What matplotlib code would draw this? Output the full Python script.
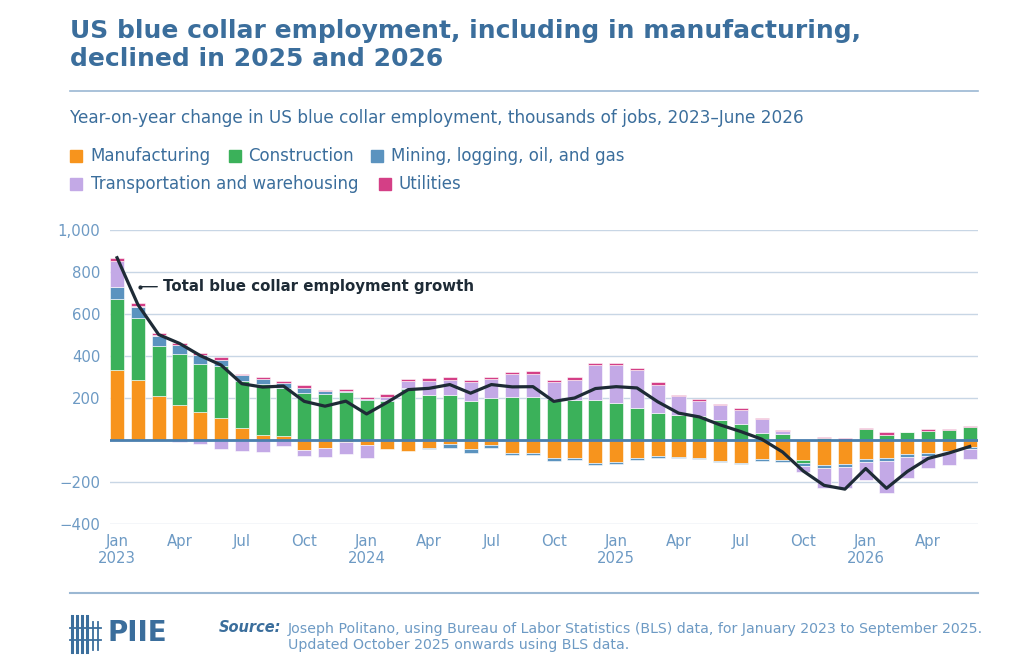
import numpy as np
import matplotlib
matplotlib.use("Agg")
import matplotlib.pyplot as plt
from matplotlib.lines import Line2D
from matplotlib.patches import Rectangle

plt.rcParams['font.family'] = ['DejaVu Sans']

# year-on-year change, thousands of jobs, Jan 2023 .. Jun 2026
months = ['Jan', 'Feb', 'Mar', 'Apr', 'May', 'Jun', 'Jul', 'Aug', 'Sep', 'Oct', 'Nov', 'Dec']
years = [2023, 2024, 2025, 2026]

manufacturing = [335, 287, 208, 167, 133, 103, 56, 24, 17, -46, -38, -11,
                 -26, -45, -50, -37, -21, -45, -22, -61, -61, -88, -85, -109,
                 -104, -88, -76, -83, -88, -102, -110, -91, -96, -94, -120, -112,
                 -91, -86, -67, -64, -54, -35]
construction = [336, 294, 238, 244, 227, 248, 225, 244, 231, 224, 221, 227,
                192, 187, 243, 216, 216, 187, 198, 206, 206, 195, 190, 190,
                174, 152, 130, 121, 113, 94, 77, 31, 28, -16, 8, 0,
                53, 26, 37, 42, 50, 62]
mining = [56, 51, 48, 43, 46, 32, 27, 24, 23, 24, 10, 8,
          5, 5, 5, -8, -15, -15, -15, -10, -10, -11, -8, -10,
          -8, -5, -9, -4, -3, -5, -6, -10, -11, -12, -14, -18,
          -13, -13, -13, -11, -5, -10]
transport = [124, 5, 6, -8, -19, -43, -54, -59, -27, -32, -43, -56,
             -59, 15, 32, 67, 72, 88, 93, 106, 109, 80, 98, 165,
             181, 182, 134, 87, 74, 71, 68, 71, 14, -30, -95, -100,
             -85, -152, -100, -56, -58, -45]
utilities = [14, 15, 10, 10, 10, 10, 8, 10, 8, 12, 6, 10,
             10, 10, 11, 11, 11, 11, 11, 14, 15, 11, 10, 11,
             11, 8, 11, 4, 10, 8, 8, 5, 5, 2, 7, 8,
             6, 11, 3, 8, 3, 3]
total = [868, 645, 502, 460, 402, 357, 268, 252, 257, 184, 161, 185,
         124, 180, 240, 246, 264, 223, 264, 253, 254, 184, 200, 245,
         254, 248, 182, 128, 110, 72, 40, 4, -57, -148, -216, -234,
         -136, -230, -150, -88, -62, -31]

series = [
    ('Manufacturing', manufacturing, '#f7941d'),
    ('Construction', construction, '#3bb15a'),
    ('Mining, logging, oil, and gas', mining, '#5b93bf'),
    ('Transportation and warehousing', transport, '#c3a9e6'),
    ('Utilities', utilities, '#d43f86'),
]

title_col = '#3b6e9c'
light_col = '#6d9ac4'
grid_col = '#c8d6e5'

fig = plt.figure(figsize=(10.23, 6.70), dpi=100)
ax = fig.add_axes([110 / 1023, 1 - 524 / 670, 868 / 1023, 294 / 670])

x = np.arange(len(total))
pos = np.zeros(len(x))
neg = np.zeros(len(x))
for name, vals, col in series:
    v = np.array(vals, dtype=float)
    bottom = np.where(v >= 0, pos, neg)
    ax.bar(x, v, 0.68, bottom=bottom, color=col, edgecolor='white', linewidth=0.4, zorder=2)
    pos = pos + np.where(v >= 0, v, 0)
    neg = neg + np.where(v < 0, v, 0)

ax.plot(x, total, color='#1e2b36', lw=2.3, zorder=4)
ax.axhline(0, color='#4a7fae', lw=2, zorder=3)

ax.set_ylim(-400, 1000)
ax.set_xlim(-0.34, 41.4)
ax.set_yticks(range(-400, 1001, 200))
ax.set_yticklabels(['\u2212400', '\u2212200', '', '200', '400', '600', '800', '1,000'])
ax.grid(axis='y', color=grid_col, lw=1, zorder=0)
ax.set_axisbelow(True)

ticks = list(range(0, 42, 3))
labels = []
for t in ticks:
    m = months[t % 12]
    if t % 12 == 0:
        labels.append(m + '\n' + str(years[t // 12]))
    else:
        labels.append(m)
ax.set_xticks(ticks)
ax.set_xticklabels(labels)
ax.tick_params(axis='both', length=0, labelsize=10.7, labelcolor=light_col)
ax.tick_params(axis='x', pad=7)
ax.tick_params(axis='y', pad=7)
for s in ax.spines.values():
    s.set_visible(False)

ax.annotate('Total blue collar employment growth', xy=(1.1, 730), xytext=(2.2, 730),
            va='center', ha='left', fontsize=10.8, fontweight='bold', color='#1e2b36',
            arrowprops=dict(arrowstyle='-', color='#1e2b36', lw=1, shrinkA=2, shrinkB=0))
ax.plot([1.1], [730], 'o', color='#1e2b36', ms=2, zorder=5)

# header
fig.text(70 / 1023, 1 - 19 / 670, 'US blue collar employment, including in manufacturing,\ndeclined in 2025 and 2026',
         fontsize=18, fontweight='bold', color=title_col, va='top', ha='left', linespacing=1.22)
fig.add_artist(Line2D([70 / 1023, 978 / 1023], [1 - 91 / 670] * 2, color='#9bb8d3', lw=1.2))
fig.text(70 / 1023, 1 - 118 / 670,
         'Year-on-year change in US blue collar employment, thousands of jobs, 2023\u2013June 2026',
         fontsize=12.2, color=title_col, va='center', ha='left')

# legend
legend_pos = [(70, 90, 156), (229, 248, 156), (371, 391, 156), (70, 91, 184), (379, 399, 184)]
for (name, vals, col), (sx, tx, yy) in zip(series, legend_pos):
    fig.add_artist(Rectangle((sx / 1023, 1 - (yy + 6) / 670), 12 / 1023, 12 / 670,
                             transform=fig.transFigure, color=col))
    fig.text(tx / 1023, 1 - yy / 670, name, fontsize=12, color=title_col, va='center', ha='left')

# footer
fig.add_artist(Line2D([70 / 1023, 978 / 1023], [1 - 593 / 670] * 2, color='#9bb8d3', lw=1.5))
for xx in [72, 77, 82, 87]:
    fig.add_artist(Line2D([xx / 1023] * 2, [1 - 652 / 670, 1 - 616 / 670], color=title_col, lw=2.2))
for xx in [93, 98]:
    fig.add_artist(Line2D([xx / 1023] * 2, [1 - 650 / 670, 1 - 622 / 670], color=title_col, lw=1.3))
for yy in [628, 640]:
    fig.add_artist(Line2D([70 / 1023, 101 / 1023], [1 - yy / 670] * 2, color=title_col, lw=1.3))
fig.text(108 / 1023, 1 - 633 / 670, 'PIIE', fontsize=20, fontweight='bold', color=title_col,
         va='center', ha='left')
fig.text(219 / 1023, 1 - 628 / 670, 'Source:', fontsize=10.5, fontweight='bold', fontstyle='italic',
         color=title_col, va='center', ha='left')
fig.text(288 / 1023, 1 - 637 / 670,
         'Joseph Politano, using Bureau of Labor Statistics (BLS) data, for January 2023 to September 2025.\n'
         'Updated October 2025 onwards using BLS data.',
         fontsize=10.2, color=light_col, va='center', ha='left', linespacing=1.25)

fig.savefig('out.png', dpi=100)
